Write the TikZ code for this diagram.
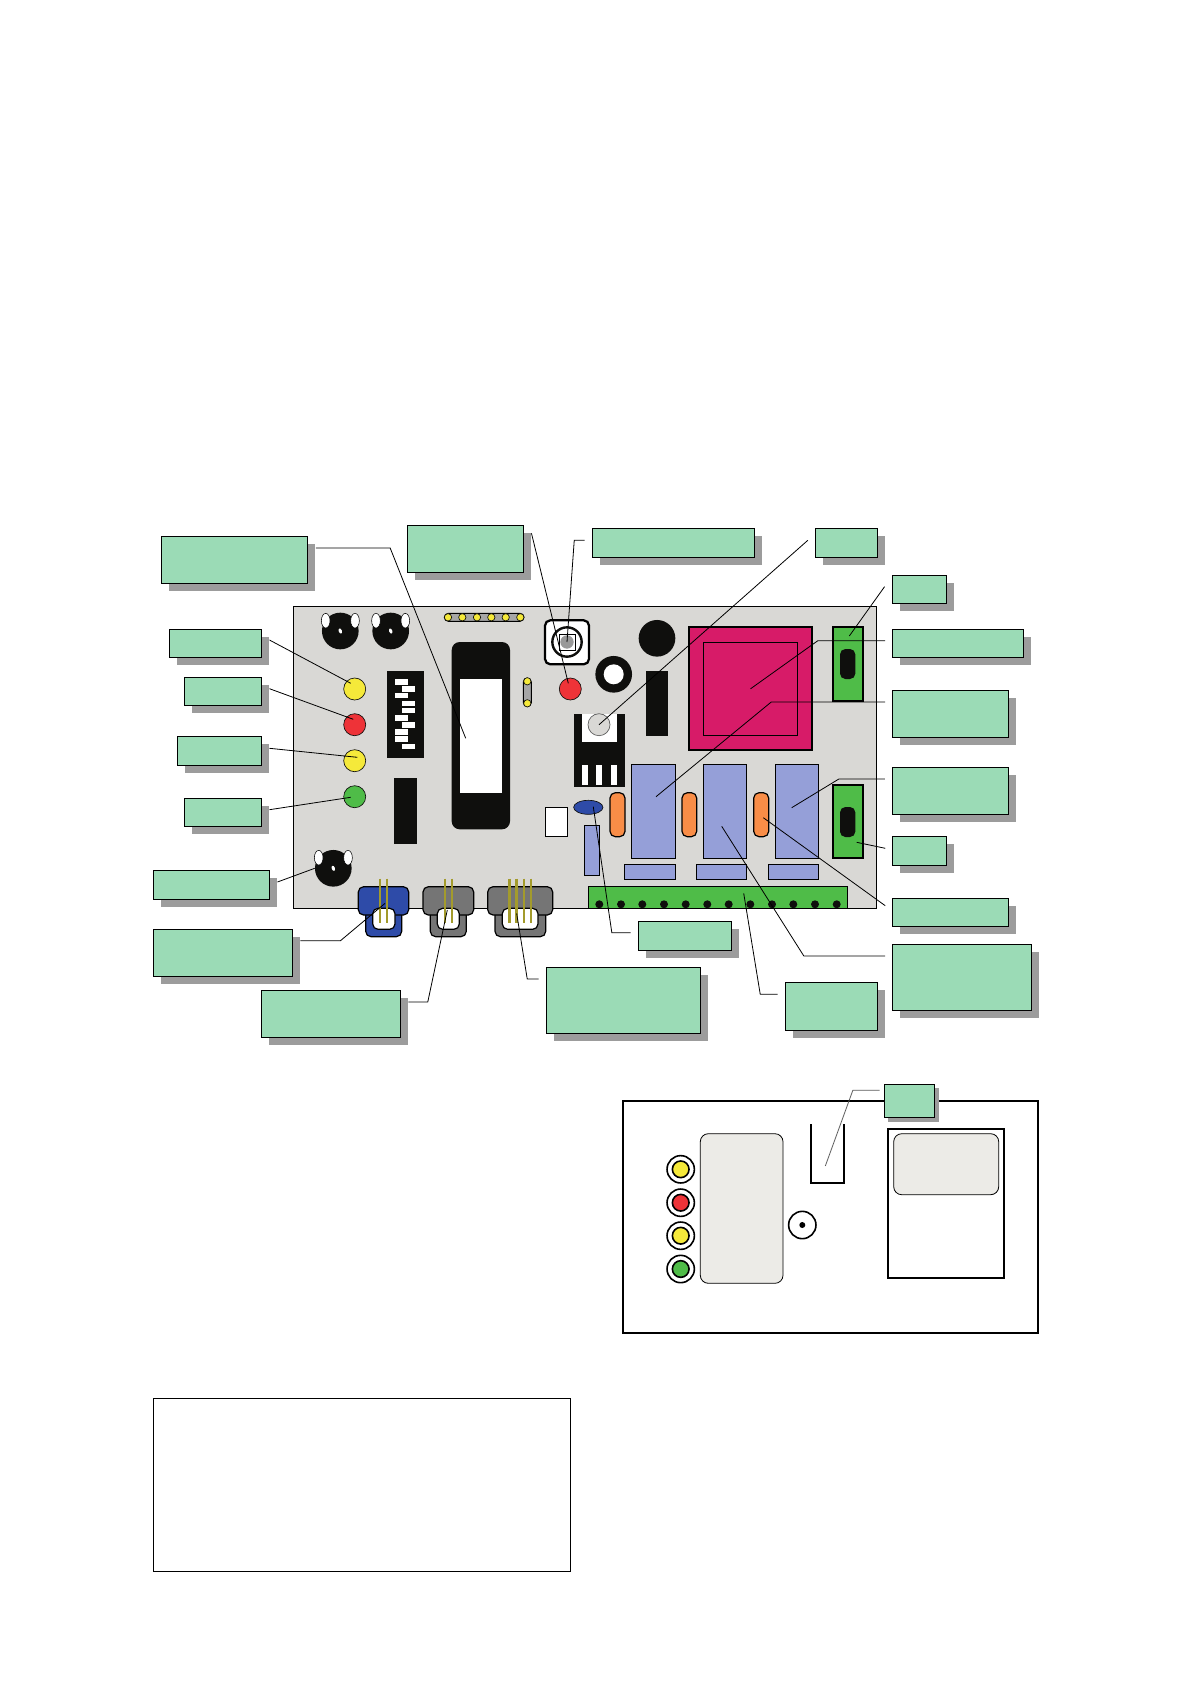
\documentclass[tikz,border=0pt]{standalone}
\usepackage{xcolor}
\definecolor{boardgrey}{HTML}{D9D8D5}
\definecolor{tagmint}{HTML}{9BDBB6}
\definecolor{shadowgrey}{HTML}{9C9C9C}
\definecolor{relayblue}{HTML}{959FD8}
\definecolor{trafopink}{HTML}{D71B68}
\definecolor{termgreen}{HTML}{4FBC48}
\definecolor{ledyellow}{HTML}{F5E93A}
\definecolor{ledred}{HTML}{EE3338}
\definecolor{capblue}{HTML}{2E4BA8}
\definecolor{shellgrey}{HTML}{757575}
\definecolor{pinolive}{HTML}{A39B2C}
\definecolor{caporange}{HTML}{F98D47}
\definecolor{panelgrey}{HTML}{ECEBE7}
\definecolor{inkblack}{HTML}{0F0F0D}
\usepackage{tikz}
\usetikzlibrary{fit,calc,shadows,shapes.geometric}
\tikzset{
  tagbase/.style={draw=black,fill=tagmint,line width=0.7pt,inner sep=0pt},
  tag/.style={tagbase,drop shadow={shadow xshift=5.6pt,shadow yshift=-5.6pt,fill=shadowgrey,opacity=1}},
  smalltag/.style={tagbase,drop shadow={shadow xshift=3pt,shadow yshift=-3pt,fill=shadowgrey,opacity=1}},
  part/.style={draw=black,line width=0.9pt,inner sep=0pt,fill=#1},
  part/.default=white,
  solid part/.style={inner sep=0pt,fill=inkblack},
  softpart/.style={part=#1,rounded corners=4pt},
  led/.style={circle,draw=inkblack,line width=0.5pt,inner sep=0pt,minimum size=16.5pt,fill=#1},
  ringled/.style={circle,draw=black,line width=1.2pt,inner sep=0pt,minimum size=12.5pt,fill=#1},
  halo/.style={circle,draw=black,line width=1.2pt,inner sep=0pt,minimum size=20.5pt,fill=white},
  pot/.style={circle,fill=inkblack,inner sep=0pt,minimum size=27.5pt},
  lug/.style={ellipse,draw=black,line width=0.4pt,fill=white,inner sep=0pt,minimum width=6.5pt,minimum height=11pt},
  nub/.style={ellipse,fill=white,inner sep=0pt,minimum width=2.4pt,minimum height=4pt,rotate=20},
  pad/.style={circle,draw=inkblack,line width=0.5pt,fill=ledyellow,inner sep=0pt,minimum size=5.5pt},
  hole/.style={circle,fill=inkblack,inner sep=0pt,minimum size=6pt},
  pin/.style={draw=pinolive,line width=1.5pt},
  thickpin/.style={draw=pinolive,line width=2.2pt},
  lead/.style={draw=black,line width=0.6pt},
}

\begin{document}
\begin{tikzpicture}[x=0.75pt,y=-0.75pt]
  \useasboundingbox (0,0) rectangle (1190,1684);
  % board
  \node[part=boardgrey,fit={(293.3,606.3) (876.7,908.3)}] (board) {};
  % pots
  \node[pot] (potA) at (340.3,631) {};
  \node[lug] (potAl) at (325.7,620.7) {};
  \node[lug] (potAr) at (355,620.7) {};
  \node[nub] (potAn) at (340.3,631) {};
  \node[pot] (potB) at (390.7,631) {};
  \node[lug] (potBl) at (376,620.7) {};
  \node[lug] (potBr) at (405.3,620.7) {};
  \node[nub] (potBn) at (390.7,631) {};
  \node[pot] (potC) at (333.3,868.3) {};
  \node[lug] (potCl) at (318.7,857.7) {};
  \node[lug] (potCr) at (348,857.7) {};
  \node[nub] (potCn) at (333.3,868.3) {};
  % header strip
  \node[part=gray!70,line width=0.7pt,rounded corners=3pt,fit={(444.3,613.3) (524,621.3)}] (strip) {};
  \node[pad] (padA) at (448,617.3) {};
  \node[pad] (padB) at (462.3,617.3) {};
  \node[pad] (padC) at (477,617.3) {};
  \node[pad] (padD) at (491.3,617.3) {};
  \node[pad] (padE) at (505.7,617.3) {};
  \node[pad] (padF) at (520.3,617.3) {};
  % dip switch
  \node[solid part,fit={(387,671) (424,758)}] (dip) {};
  \node[fill=white,inner sep=0pt,fit={(395,679.3) (408.3,684.7)}] (dipA) {};
  \node[fill=white,inner sep=0pt,fit={(402,686.3) (415.3,691.7)}] (dipB) {};
  \node[fill=white,inner sep=0pt,fit={(395,693) (408.3,698.4)}] (dipC) {};
  \node[fill=white,inner sep=0pt,fit={(402,700.6) (415.3,706)}] (dipD) {};
  \node[fill=white,inner sep=0pt,fit={(402,708) (415.3,713.4)}] (dipE) {};
  \node[fill=white,inner sep=0pt,fit={(395,715.3) (408.3,720.7)}] (dipF) {};
  \node[fill=white,inner sep=0pt,fit={(402,722.3) (415.3,727.7)}] (dipG) {};
  \node[fill=white,inner sep=0pt,fit={(395,729.3) (408.3,734.7)}] (dipH) {};
  \node[fill=white,inner sep=0pt,fit={(395,736.3) (408.3,741.7)}] (dipI) {};
  \node[fill=white,inner sep=0pt,fit={(402,743.6) (415.3,749)}] (dipJ) {};
  \node[solid part,fit={(394,778) (417,843.7)}] (chipA) {};
  % main ic
  \node[solid part,rounded corners=6pt,fit={(451.7,642) (510,829.3)}] (ic) {};
  \node[fill=white,inner sep=0pt,fit={(460,679) (502,793)}] (icwin) {};
  % jumper
  \node[part=gray!70,line width=0.7pt,rounded corners=3pt,fit={(523.3,678) (531.3,706.6)}] (jump) {};
  \node[pad] (jumpA) at (527.3,681.3) {};
  \node[pad] (jumpB) at (527.3,703.3) {};
  % leds
  \node[led=ledyellow] (ledA) at (354.7,689) {};
  \node[led=ledred] (ledB) at (354.7,724.7) {};
  \node[led=ledyellow] (ledC) at (354.7,760.7) {};
  \node[led=termgreen] (ledD) at (354.7,796.7) {};
  \node[led=ledred] (ledE) at (570.3,689) {};
  % push button
  \node[part,line width=1.7pt,rounded corners=4pt,fit={(545,620.3) (589,664.3)}] (btn) {};
  \node[circle,draw=inkblack,line width=1.8pt,fill=white,inner sep=0pt,minimum size=22pt] (btnring) at (567,642) {};
  \node[part,line width=0.5pt,fit={(559,634) (575,650)}] (btnsq) {};
  \node[circle,fill=gray!80,inner sep=0pt,minimum size=10pt] (btncap) at (567,642) {};
  % round parts
  \node[circle,fill=inkblack,inner sep=0pt,minimum size=27.5pt] (ringout) at (613.7,674.3) {};
  \node[circle,fill=white,inner sep=0pt,minimum size=15pt] (ringin) at (613.7,674.3) {};
  \node[pot] (coil) at (657,638.3) {};
  \node[solid part,fit={(646,671) (668,736)}] (chipB) {};
  % regulator
  \node[solid part,fit={(574,714.3) (625,786.7)}] (reg) {};
  \node[fill=white,inner sep=0pt,fit={(582,714.3) (617,742)}] (regtab) {};
  \node[circle,draw=gray!70!black,line width=0.5pt,fill=boardgrey,inner sep=0pt,minimum size=16.5pt] (reghole) at (599,724.7) {};
  \node[fill=white,inner sep=0pt,fit={(582,765.3) (588,785.3)}] (regpinA) {};
  \node[fill=white,inner sep=0pt,fit={(596,765.3) (602,785.3)}] (regpinB) {};
  \node[fill=white,inner sep=0pt,fit={(611,765.3) (617,785.3)}] (regpinC) {};
  % transformer
  \node[part=trafopink,line width=1.4pt,fit={(689.3,627.3) (811.7,750.3)}] (trafo) {};
  \node[draw=black,line width=0.6pt,inner sep=0pt,fit={(703.3,642.3) (797.7,735.3)}] (trafoin) {};
  % green switches
  \node[part=termgreen,line width=1.4pt,fit={(833.3,627.3) (862.7,700.7)}] (swA) {};
  \node[solid part,rounded corners=4pt,fit={(840,649) (855.3,679)}] (swAslot) {};
  \node[part=termgreen,line width=1.4pt,fit={(833.3,785.3) (862.7,858.3)}] (swB) {};
  \node[solid part,rounded corners=4pt,fit={(840,807) (855.3,837)}] (swBslot) {};
  % relays
  \node[part=relayblue,fit={(631.3,764.3) (675.7,858.3)}] (relA) {};
  \node[part=relayblue,fit={(703.3,764.3) (746.7,858.3)}] (relB) {};
  \node[part=relayblue,fit={(775.3,764.3) (818.7,858.3)}] (relC) {};
  \node[part=relayblue,fit={(624.3,864.3) (675.7,879.7)}] (baseA) {};
  \node[part=relayblue,fit={(696.3,864.3) (746.7,879.7)}] (baseB) {};
  \node[part=relayblue,fit={(768.3,864.3) (818.7,879.7)}] (baseC) {};
  \node[softpart=caporange,fit={(610,792.7) (625,836.7)}] (capA) {};
  \node[softpart=caporange,fit={(682,792.7) (696.7,836.7)}] (capB) {};
  \node[softpart=caporange,fit={(753.7,792.7) (768.7,836.7)}] (capC) {};
  \node[ellipse,draw=inkblack,line width=0.5pt,fill=capblue,inner sep=0pt,minimum width=22pt,minimum height=10.5pt] (oval) at (588.3,807.3) {};
  \node[part,fit={(545.3,807.3) (567.7,836.7)}] (whitebox) {};
  \node[part=relayblue,fit={(584.7,825.3) (599.7,875.7)}] (fuse) {};
  % terminal block
  \node[part=termgreen,line width=0.7pt,fit={(588.3,886.3) (847.7,908.3)}] (term) {};
  \node[hole] (hA) at (599.3,904.3) {}; \node[hole] (hB) at (621,904.3) {};
  \node[hole] (hC) at (642.3,904.3) {}; \node[hole] (hD) at (664,904.3) {};
  \node[hole] (hE) at (685.7,904.3) {}; \node[hole] (hF) at (707.3,904.3) {};
  \node[hole] (hG) at (728.7,904.3) {}; \node[hole] (hH) at (750.3,904.3) {};
  \node[hole] (hI) at (772,904.3) {}; \node[hole] (hJ) at (793.3,904.3) {};
  \node[hole] (hK) at (815,904.3) {}; \node[hole] (hL) at (836.7,904.3) {};
  % connectors on the board edge
  \node[softpart=capblue,fit={(365.7,905) (401.7,936.7)}] (plugAlow) {};
  \node[softpart=capblue,fit={(358.3,886.7) (408.7,915)}] (plugA) {};
  \node[softpart=white,fit={(372.7,908.3) (395,929.3)}] (plugAin) {};
  \draw[pin] (380,878.7) -- (380,922.7);
  \draw[pin] (387,878.7) -- (387,922.7);
  \node[softpart=shellgrey,fit={(430.3,905) (466.3,936.7)}] (plugBlow) {};
  \node[softpart=shellgrey,fit={(423,886.7) (473.7,915)}] (plugB) {};
  \node[softpart=white,fit={(437.3,908.3) (459.3,929.3)}] (plugBin) {};
  \draw[pin] (445,878.7) -- (445,922.7);
  \draw[pin] (452,878.7) -- (452,922.7);
  \node[softpart=shellgrey,fit={(495,905) (545.7,936.7)}] (plugClow) {};
  \node[softpart=shellgrey,fit={(487.7,886.7) (552.7,915)}] (plugC) {};
  \node[softpart=white,fit={(502.3,908.3) (538,929.3)}] (plugCin) {};
  \draw[thickpin] (509.3,878.7) -- (509.3,922.7);
  \draw[thickpin] (516.7,878.7) -- (516.7,922.7);
  \draw[pin] (523.7,878.7) -- (523.7,922.7);
  \draw[pin] (530.7,878.7) -- (530.7,922.7);
  % labels
  \node[tag,fit={(161.3,536.3) (307.7,583.7)}] (lblic) {};
  \node[tag,fit={(407.3,525.3) (523.7,572.7)}] (lblled) {};
  \node[tag,fit={(592.3,528.3) (754.7,557.7)}] (lblbtn) {};
  \node[tag,fit={(815.3,528.3) (877.7,557.7)}] (lblreg) {};
  \node[tag,fit={(892.3,575.3) (946.7,603.7)}] (lblswA) {};
  \node[tag,fit={(892.3,629.3) (1023.7,657.7)}] (lbltrafo) {};
  \node[tag,fit={(892.3,690.3) (1008.7,737.7)}] (lblrelA) {};
  \node[tag,fit={(892.3,767.3) (1008.7,814.7)}] (lblrelC) {};
  \node[tag,fit={(892.3,836.3) (946.7,865.7)}] (lblswB) {};
  \node[tag,fit={(892.3,898.3) (1008.7,926.7)}] (lblcap) {};
  \node[tag,fit={(892.3,944.3) (1031.7,1010.7)}] (lblrelB) {};
  \node[tag,fit={(785.3,982.3) (877.7,1030.7)}] (lblterm) {};
  \node[tag,fit={(638.3,921.3) (731.7,950.7)}] (lbloval) {};
  \node[tag,fit={(546.3,967.3) (700.7,1033.7)}] (lblplugC) {};
  \node[tag,fit={(261.3,990.3) (400.7,1037.7)}] (lblplugB) {};
  \node[tag,fit={(153.3,929.3) (292.7,976.7)}] (lblplugA) {};
  \node[tag,fit={(153.3,870.3) (269.7,899.7)}] (lblpot) {};
  \node[tag,fit={(184.3,798.3) (261.7,826.7)}] (lblledD) {};
  \node[tag,fit={(177.3,736.3) (261.7,765.7)}] (lblledC) {};
  \node[tag,fit={(184.3,677.3) (261.7,705.7)}] (lblledB) {};
  \node[tag,fit={(169.3,629.3) (261.7,657.7)}] (lblledA) {};
  % leads
  \draw[lead] ($(lblic.east)+(7.6,-12)$) -- ++(74.4,0) -- ($(icwin.center)+(-15.3,2.3)$);
  \draw[lead] ($(lblled.east)+(7.3,-15.7)$) -- ($(ledE.center)+(-2,-5.7)$);
  \draw[lead] ($(lblbtn.west)+(-7.3,-2.7)$) -- ++(-10.3,0) -- (btncap.center);
  \draw[lead] ($(lblreg.west)+(-7,-2.7)$) -- (reghole.center);
  \draw[lead] ($(lblswA.west)+(-7.3,-2.8)$) -- ($(swA.center)+(1.3,-28)$);
  \draw[lead] ($(lbltrafo.west)+(-6.6,-2.8)$) -- ++(-67.4,0) -- (trafo.center);
  \draw[lead] ($(lblrelA.west)+(-6.6,-12)$) -- ++(-114,0) -- ($(relA.center)+(2.5,-14.6)$);
  \draw[lead] ($(lblrelC.west)+(-7,-12)$) -- ++(-46,0) -- ($(relC.center)+(-5.3,-3.6)$);
  \draw[lead] ($(lblswB.west)+(-6.6,-2.7)$) -- ($(swB.center)+(8.7,20.5)$);
  \draw[lead] ($(lblcap.west)+(-6.6,-6.8)$) -- ($(capC.center)+(2.1,3)$);
  \draw[lead] ($(lblrelB.west)+(-6.6,-21.5)$) -- ++(-81.4,0) -- ($(relB.center)+(-3.3,15)$);
  \draw[lead] ($(lblterm.west)+(-7.3,-12.2)$) -- ++(-17.3,0) -- ($(term.center)+(25.7,-4)$);
  \draw[lead] ($(lbloval.west)+(-7.3,-3.3)$) -- ++(-18.7,0) -- ($(oval.center)+(5,-0.6)$);
  \draw[lead] ($(lblplugC.west)+(-7.3,-21.5)$) -- ++(-11.3,0) -- ($(plugCin.center)+(-3.5,-5.5)$);
  \draw[lead] ($(lblplugB.east)+(7.3,-12)$) -- ++(19.3,0) -- ($(plugBin.center)+(-1,-8.8)$);
  \draw[lead] ($(lblplugA.east)+(7.3,-12.3)$) -- ++(40,0) -- ($(plugA.center)+(1.5,2.5)$);
  \draw[lead] ($(lblpot.east)+(7.3,-3)$) -- (potC.west);
  \draw[lead] ($(lblledD.east)+(7.3,-2.8)$) -- ($(ledD.center)+(-4,0.6)$);
  \draw[lead] ($(lblledC.east)+(7.3,-2.7)$) -- ($(ledC.center)+(2.6,-3.4)$);
  \draw[lead] ($(lblledB.east)+(7.3,-2.8)$) -- ($(ledB.center)+(-1.4,-5.4)$);
  \draw[lead] ($(lblledA.east)+(7.3,-3.5)$) -- ($(ledA.center)+(-4,-5.7)$);
  % front panel
  \node[draw=black,line width=1.6pt,inner sep=0pt,fit={(622.7,1100.7) (1037.7,1333.3)}] (panel) {};
  \node[part=panelgrey,line width=0.6pt,rounded corners=6pt,fit={(700.3,1133.7) (783,1283.3)}] (window) {};
  \node[halo] (haloA) at (680.7,1169.3) {};
  \node[ringled=ledyellow] (viewA) at (680.7,1169.3) {};
  \node[halo] (haloB) at (680.7,1202.7) {};
  \node[ringled=ledred] (viewB) at (680.7,1202.7) {};
  \node[halo] (haloC) at (680.7,1235.7) {};
  \node[ringled=ledyellow] (viewC) at (680.7,1235.7) {};
  \node[halo] (haloD) at (680.7,1269) {};
  \node[ringled=termgreen] (viewD) at (680.7,1269) {};
  \draw[line width=1.4pt] (810.7,1124.3) -- (810.7,1183.3) -- (844.3,1183.3) -- (844.3,1124.3);
  \coordinate (cuptip) at (825.3,1166);
  \node[halo] (knob) at (802.3,1225) {};
  \node[circle,fill=black,inner sep=0pt,minimum size=4.5pt] (knobdot) at (802.3,1225) {};
  \node[part,line width=1.5pt,fit={(887.7,1128.7) (1004.3,1278.3)}] (slot) {};
  \node[part=panelgrey,line width=0.6pt,rounded corners=6pt,fit={(893.7,1133.7) (998.7,1194.7)}] (slotwin) {};
  \node[smalltag,fit={(884.3,1084.3) (934.7,1117.7)}] (lblcup) {};
  \draw[lead,draw=gray!70!black] ($(lblcup.west)+(-4.3,-10.7)$) -- ++(-26.7,0) -- (cuptip);
  % note box
  \node[draw=black,line width=0.8pt,inner sep=0pt,fit={(153.3,1398.3) (570.7,1571.3)}] (note) {};
\end{tikzpicture}
\end{document}
